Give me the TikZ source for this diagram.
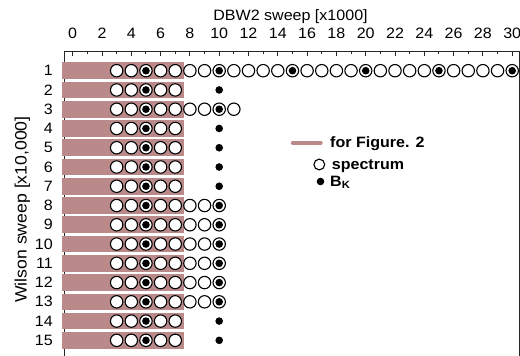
\documentclass[tikz,border=0pt]{standalone}
\usepackage{fontspec}
\setmainfont{Liberation Sans}[FakeStretch=1.07]
\usepackage{tikz}
\definecolor{barpink}{RGB}{186,138,138}

\begin{document}
\begin{tikzpicture}[x=1pt,y=-1pt,
    spec/.style={draw=black,line width=1.1pt,fill=white},
    axisline/.style={line width=1pt,draw=black!85},
    lbl/.style={inner sep=0pt,font=\fontsize{15}{18}\selectfont},
    keytext/.style={inner sep=0pt,anchor=base west,font=\fontsize{15}{18}\selectfont\bfseries}]
  \useasboundingbox (0,0) rectangle (520,356);
  % frame and axis titles
  \draw[axisline] (64.3,356) -- (64.3,51.7) -- (519,51.7) -- (519,356);
  \node[lbl,anchor=base] (xlabel) at (290.5,20) {DBW2 sweep [x1000]};
  \node[lbl,font=\fontsize{16.5}{19}\selectfont,rotate=90,anchor=base] (ylabel) at (26.7,209.5) {Wilson sweep [x10,000]};
  \begin{scope}[x=14.65pt,y=-19.26pt,shift={(72.7pt,-51.44pt)}]
    \foreach \u in {0,2,...,30} {
      \draw[axisline] (\u,0) -- ++(0pt,-4.3pt);
      \node[lbl,anchor=base] (t\u) at (\u,-0.682) {\u};
    }
    \foreach \u in {1,3,...,29}
      \draw[axisline] (\u,0) -- ++(0pt,-2.3pt);
    % one row per Wilson sweep
    \foreach \k/\n in {1/30,2/7,3/11,4/7,5/7,6/7,7/7,8/10,9/10,10/10,11/10,12/10,13/10,14/7,15/7} {
      \fill[barpink] (-0.71,\k-0.43) rectangle (7.62,\k+0.43);
      \node[lbl,anchor=east] (r\k) at (-1.345,\k) {\k};
      \foreach \u in {3,...,\n}
        \draw[spec] (\u,\k) circle[radius=6.2pt];
      \fill (5,\k) circle[radius=3.8pt];
      \fill (10,\k) circle[radius=3.8pt];
    }
    \foreach \u in {15,20,25,30}
      \fill (\u,1) circle[radius=3.8pt];
  \end{scope}
  % legend
  \draw[barpink,line width=4.3pt,line cap=round] (292.9,142.8) -- (320.5,142.8);
  \node[keytext] (figkey) at (330,147.3) {for Figure. 2};
  \draw[spec] (319.3,164.5) circle[radius=5.4pt];
  \node[keytext] (speckey) at (331.7,169) {spectrum};
  \fill (320.5,181.5) circle[radius=3.8pt];
  \node[keytext] (bkkey) at (330,186.7) {B\textsubscript{K}};
\end{tikzpicture}
\end{document}
